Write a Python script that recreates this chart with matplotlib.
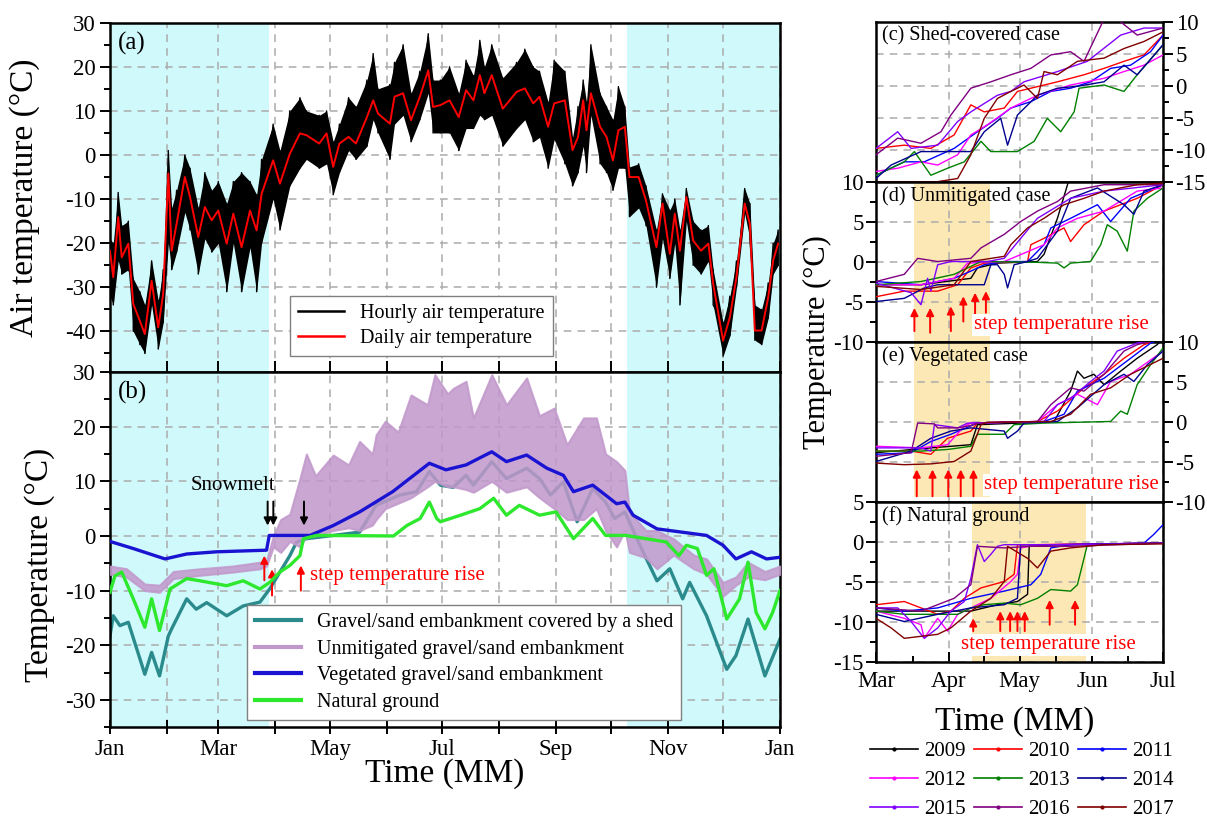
import numpy as np
import matplotlib
matplotlib.use('Agg')
import matplotlib.pyplot as plt
from matplotlib.lines import Line2D
from matplotlib.ticker import MultipleLocator

plt.rcParams['font.family'] = ['Liberation Serif', 'DejaVu Serif']
plt.rcParams['axes.unicode_minus'] = False

########################################################################################################################
# (a) air temperature, day of year
AIR_DAY = [0, 1.8, 4.5, 6.4, 10, 12.7, 16.3, 19, 22.7, 26.3, 29, 31.8, 33.6, 36.3, 40.8, 43.6, 48.1, 51.7, 55.4, 59,
           63.6, 67.2, 71.7, 76.3, 79.9, 82.6, 88.9, 92.6, 98, 103.5, 107, 114, 118, 121.6, 125, 130, 134, 140, 143.4,
           146, 152.5, 155, 159.7, 164, 168.8, 173.4, 176, 180, 185, 190, 194, 198, 201.5, 204, 208, 214, 221.5, 226,
           230.6, 234, 238.7, 242, 247.8, 252, 255, 257.8, 259.6, 262, 267, 270.5, 274, 277, 280.5, 283, 288, 292,
           297.7, 301, 305, 307.7, 310.5, 314, 317.7, 322, 326, 328.6, 334, 337.7, 341.3, 345.8, 348.6, 351.3, 355,
           358.6, 361.3, 364]
AIR_DAILY = [-21.7, -27.7, -14.1, -23.2, -20.1, -33.8, -37.6, -40.6, -28.5, -39.1, -31.5, -4.2, -21.7, -15.6, -5.0,
             -9.5, -18.6, -11.8, -14.8, -12.6, -20.1, -13.3, -20.9, -12.6, -17.1, -8.8, -1.2, -6.5, 0.3, 4.9,
             4.5, 2.6, 4.9, -2.7, 2.6, 4.1, 2.6, 8.6, 12.4, 9.4, 7.1, 13.2, 14.0, 7.9, 13.2,
             19.2, 10.9, 11.3, 12.4, 8.6, 14.7, 12.4, 18.1, 14.0, 18.1, 10.5, 14.3, 15.1, 11.7, 13.2,
             6.4, 11.7, 12.4, 1.1, 4.1, 12.4, 5.6, 14.0, 6.4, 4.1, -1.2, 5.6, 6.4, -5.0, -5.0,
             -10.3, -20.9, -11.0, -22.4, -13.3, -21.7, -9.5, -19.4, -21.7, -20.1, -29.2, -42.1, -36.8, -27.7, -11.0,
             -15.6, -39.8, -39.8, -32.3, -23.9, -20.1]
AIR_HOURLY_MAX = [-19, -20, -8.5, -16, -15, -28, -31, -34, -24, -33, -26, 1, -12, -8, 0, -3, -12, -4, -8, -6,
                  -11, -6, -4, -6, -9, -1, 7, 1, 10, 13, 10, 9, 10, 3, 7, 13, 11, 17, 23, 15,
                  16, 21, 25, 14, 19, 27.5, 17, 17, 20, 14, 21.5, 18, 26, 20, 25, 17.5, 21, 24, 20, 19,
                  12, 21.5, 19, 4, 11, 17, 12, 25, 14, 11, 8, 15.5, 11, -2.7, -2, -7, -17, -8.8, -12.5, -10,
                  -17, -7.6, -15, -17, -16, -26, -38, -32, -24, -7.6, -11, -34, -35, -29, -20, -17]
AIR_HOURLY_MIN = [-32, -34, -24, -27, -26, -40, -43, -45, -34, -44, -38, -20, -26, -22, -13, -17, -27, -19, -22, -20,
                  -31, -20, -31, -21, -31, -20, -10, -17, -7, -3, -1, -3, -2, -9, -4, 1, -1, 2, 8, 5,
                  -1, 7, 9, 3, 8, 14, 5, 5, 5, 1, 6, 6, 9, 8, 9, 2, 6, 8, 3, 4,
                  -3, 3.5, -2, -7, -4, 2, -4, 9, -2, -4, -8, -3, -3, -14, -12, -16, -30, -19, -28, -20,
                  -34, -15, -25, -27, -24, -34, -45.6, -41, -30, -13.3, -19, -42, -43, -37, -27, -25]

# (b) embankment temperatures
SHED_DAY = [0, 1.8, 5.4, 10, 19, 22.7, 27, 31.8, 33.6, 41.8, 47, 52.7, 63.6, 72.6, 81.7, 87, 92.6, 98, 101.7, 107,
            121.6, 136, 145, 158, 167, 174, 180, 187, 194, 198, 208, 216, 227, 234, 240, 247, 254.5, 263, 270, 275,
            280.5, 288.7, 298, 305, 312, 315.8, 325, 336, 341, 347.6, 356.8, 365]
SHED_T = [-18.3, -14.6, -16.4, -15.8, -25.3, -21.3, -25.6, -18.3, -17.0, -11.5, -13.4, -12.2, -14.6, -12.8, -12.1,
          -9.7, -6.6, -3.6, -1.1, -0.5, 0.1, 0.7, 5.6, 7.5, 8.1, 11.8, 9.3, 8.9, 11.1, 9.3, 13.6, 10.5, 12.4, 10.5,
          7.5, 9.9, 2.6, 8.7, 6.2, 3.2, 4.4, -1.7, -8.2, -6.0, -11.5, -8.5, -14.6, -24.4, -21.9, -15.2, -25.6, -18.9]

UNMIT_DAY = [0, 9, 19, 27, 34.5, 49, 67, 81.7, 85.3, 89, 93, 98, 103.5, 107, 112, 121.6, 130, 136, 143, 145, 150, 157,
             164, 173, 177, 184, 187, 194, 198, 208, 216, 227, 234, 242, 249, 258, 265, 270, 276, 280.5, 283, 292,
             298, 307, 318, 325, 334, 341, 347.6, 356.8, 365]
UNMIT_MIN = [-7, -7.5, -10, -10.3, -7.8, -7.2, -6.6, -6, -5.5, -2, -3, -1, -2, 0, 0, 1, 1.5, 1, 2, 3, 5, 6, 7, 9, 10,
             9, 9, 8.5, 8, 10, 8, 9, 7, 5, 3, 3, 5, 1, -2, 1, -3, -4, -6, -3.5, -6, -7, -11, -9, -7.5, -8, -7]
UNMIT_MAX = [-5.5, -6, -8.8, -9, -6.5, -6, -5.5, -4.8, -4.5, 0, 3, 4, 10.5, 15, 11, 14.8, 13, 17.3, 15, 18.5, 21, 19,
             25.8, 24, 29.5, 26, 27, 28.3, 21.6, 29.5, 24, 28.9, 22, 23.4, 16.7, 21.6, 21.6, 15, 13.6, 12, 4.4, 1, 1,
             -0.5, -3.5, -4.2, -8.5, -7.5, -4.8, -6.5, -5.5]

VEG_DAY = [0, 12.7, 30, 41.8, 58, 85.3, 86.8, 109, 121.6, 136, 154, 174, 183, 194, 208, 216, 227, 238, 247, 252.5,
           263, 276, 280.5, 285, 298, 325, 334, 341, 349.5, 357.7, 365]
VEG_T = [-1.0, -2.3, -4.2, -3.3, -2.9, -2.6, 0.1, 0.1, 1.9, 4.4, 8.1, 13.3, 12.1, 13.0, 15.4, 13.6, 14.8, 12.4, 11.1,
         8.1, 9.3, 5.9, 6.2, 3.8, 1.3, 0.1, -1.7, -4.2, -2.9, -4.2, -3.9]

NAT_DAY = [0, 2.7, 6.4, 12.7, 19, 22.7, 27, 32.7, 41.8, 49, 63.6, 72.6, 81.7, 87, 92.6, 98, 103.5, 105.4, 112.6, 154.5,
           161.7, 169, 174, 178, 180, 191, 201.5, 209, 216, 223, 234, 243, 252.5, 263, 270, 281, 292, 303, 310, 314,
           320, 325, 329, 336, 343, 347.6, 352, 356.8, 361, 365]
NAT_T = [-10.3, -7.3, -6.6, -11.5, -16.7, -11.5, -17.3, -9.7, -7.8, -8.2, -9.1, -8.2, -9.7, -8.5, -6.6, -5.4, -3.6,
         -0.5, 0.1, 0.0, 1.9, 3.2, 6.2, 3.2, 2.6, 3.8, 5.0, 6.9, 3.8, 5.6, 3.8, 4.4, -0.5, 3.2, 0.1, 0.1, -0.5, -1.1,
         -3.6, -1.7, -2.3, -7.2, -6.0, -15.2, -11.5, -4.8, -14.0, -17.0, -14.0, -10.0]

WINTER = [(0, 86.6), (281.6, 365)]
MONTH_START = [0, 31, 59, 90, 120, 151, 181, 212, 243, 273, 304, 334, 365]
MONTH_NAMES = ['Jan', 'Feb', 'Mar', 'Apr', 'May', 'Jun', 'Jul', 'Aug', 'Sep', 'Oct', 'Nov', 'Dec', 'Jan']

# snowmelt / step rise marks in (b)
B_MELT_DAY = [85.9, 89, 105.7]
B_RISE_DAY = [84.1, 88.3, 104]
B_RISE_FROM = [-8.1, -10.9, -10.0]
B_RISE_TO = [-3.6, -6.1, -5.4]

########################################################################################################################
# (c)-(f): days since 1 March, temperature
YEARS = ['2009', '2010', '2011', '2012', '2013', '2014', '2015', '2016', '2017']
YEAR_COLORS = ['black', '#FF0000', '#0000FF', '#FF00FF', '#008000', '#000090', '#8000FF', '#800080', '#800000']

C_2010 = [(0, -9.7), (12, -9.2), (23.3, -9.7), (33.2, -7.6), (40.3, -2.9), (46, -4.0), (54.5, -3.4), (60.1, -0.8),
          (65.8, -0.3), (77.1, 0.7), (88.4, 1.8), (96.9, 2.8), (105.4, 3.9), (113.9, 4.9), (122, 8.0)]
C_2011 = [(0, -13.9), (12, -11.8), (20.5, -11.8), (33.2, -9.7), (43.1, -7.1), (51.6, -5.0), (57.3, -3.4), (65.8, -2.4),
          (74.3, -0.8), (82.7, -0.3), (91.2, 0.7), (99.7, 2.8), (108.2, 3.3), (116.7, 5.4), (122, 8.0)]
C_2012 = [(0, -13.3), (9.2, -12.8), (19.1, -11.8), (26.2, -12.3), (34.7, -10.7), (40.3, -7.6), (47.4, -6.0),
          (57.3, -3.4), (68.6, -1.4), (82.7, 0.2), (96.9, 1.25), (105.4, 2.3), (113.9, 3.3), (122, 4.9)]
C_2013 = [(0, -13.9), (12, -11.8), (16.3, -10.2), (23.3, -13.9), (30.4, -12.8), (37.5, -11.8), (44.6, -8.6),
          (48.8, -10.2), (60.1, -10.2), (67.2, -8.6), (72.8, -5.0), (78.5, -7.1), (84.2, -4.0), (86.3, -0.3),
          (96.9, 0.2), (105.4, -0.8), (111, 1.8), (119.5, 5.4), (122, 6.5)]
C_2014 = [(0, -14.4), (6.4, -12.3), (19.1, -10.2), (40.3, -10.2), (46, -7.1), (53, -5.0), (55.9, -9.2), (60.1, -4.5),
          (68.6, -1.4), (77.1, -0.3), (85.6, 0), (96.9, 0.7), (105.4, 3.3), (111, 1.8), (122, 6.5)]
C_2015 = [(0, -9.7), (9.2, -7.1), (14.9, -9.7), (26.2, -9.2), (34.7, -5.5), (40.3, -4.0), (51.6, -1.4), (57.3, -0.8),
          (62.9, 0.7), (77.1, 2.3), (89.8, 3.9), (104, 8.0), (113.9, 9.1), (122, 9.1)]
C_2016 = [(0, -10.7), (9.2, -8.1), (19.1, -8.9), (27.6, -7.1), (31.8, -4.5), (40.3, -0.3), (48.8, 0.7), (57.3, 1.8),
          (65.8, 2.8), (74.3, 4.9), (82.7, 5.4), (88.4, 3.9), (96.9, 10.5), (102.5, 10.5), (111, 8.0), (122, 9.1)]
C_2017 = [(0, -14.9), (26.2, -14.9), (34.7, -14.4), (40.3, -10.7), (46, -5.0), (51.6, -1.9), (57.3, -0.8),
          (62.9, 0.2), (68.6, -1.9), (71.4, 2.3), (77.1, 1.8), (85.6, 3.9), (96.9, 4.4), (105.4, 5.9), (113.9, 7.0),
          (122, 8.5)]

D_2009 = [(0, -2.8), (19.1, -2.8), (40.3, -2.0), (43.1, -0.7), (51.6, -0.1), (68.6, 0.1), (71.4, 1.0), (77.1, 5.5),
          (82.7, 11), (122, 11)]
D_2010 = [(0, -4.3), (12, -3.6), (26.2, -3.6), (34.7, -2.8), (40.3, -0.7), (46, -0.1), (64.4, 0.1), (65.8, 2.2),
          (71.4, 3.0), (79.9, 4.3), (82.7, 2.6), (88.4, 4.7), (96.9, 6.4), (111, 8.0), (122, 9.7)]
D_2011 = [(0, -2.4), (19.1, -2.8), (33.2, -2.0), (40.3, -1.1), (46, -0.3), (54.5, 0.1), (64.4, 0.1), (71.4, 2.2),
          (74.3, 4.3), (82.7, 5.5), (94.1, 7.2), (99.7, 5.1), (108.2, 8.0), (122, 9.7)]
D_2012 = [(0, -2.8), (19.1, -2.8), (33.2, -2.0), (38.9, -0.1), (54.5, 0.1), (71.4, 2.2), (77.1, 4.3), (85.6, 5.5),
          (96.9, 6.4), (111, 8.9), (122, 9.3)]
D_2013 = [(0, -2.8), (19.1, -2.4), (33.2, -1.5), (44.6, 0.1), (68.6, 0), (77.1, -0.1), (79.9, -0.7), (82.7, -0.1),
          (91.2, 0.1), (95.5, 2.2), (98.3, 4.7), (102.5, 3.9), (106.8, 1.4), (109.6, 6.4), (115.3, 8.0), (122, 9.3)]
D_2014 = [(0, -4.9), (12, -4.5), (20.5, -3.2), (26.2, -2.8), (37.5, -2.8), (46, -2.8), (48.8, -0.3), (51.6, -0.3),
          (54.5, -1.5), (55.9, -3.2), (58.7, -0.3), (64.4, 0.1), (68.6, 0.5), (77.1, 3.9), (82.7, 8.0), (94.1, 9.3),
          (105.4, 7.2), (109.6, 6.0), (113.9, 8.9), (122, 9.7)]
D_2015 = [(0, -2.6), (14.9, -3.8), (19.1, -5.3), (21.9, -2.0), (23.3, -3.6), (26.2, -0.3), (31.8, 0.1), (40.3, 0.1),
          (47.4, 0.1), (54.5, 0.5), (61.5, 3.0), (68.6, 5.5), (82.7, 8.0), (96.9, 8.9), (122, 9.7)]
D_2016 = [(0, -2.4), (12, -1.5), (17.7, 0.5), (26.2, 0.1), (40.3, 0.5), (44.6, 1.8), (54.5, 3.5), (61.5, 5.1),
          (68.6, 6.4), (77.1, 7.6), (82.7, 8.9), (96.9, 9.7), (122, 9.7)]
D_2017 = [(0, -3.0), (19.1, -3.4), (33.2, -2.8), (40.3, 0.1), (54.5, 0.75), (57.3, 2.2), (64.4, 4.3), (71.4, 5.5),
          (79.9, 7.2), (88.4, 8.0), (96.9, 8.9), (111, 9.7), (122, 9.9)]

E_2009 = [(0, -3.8), (23.3, -3.2), (40.3, -2.8), (43.1, -0.3), (61.5, -0.1), (75.7, 0.1), (82.7, 3.9), (85.6, 6.4),
          (88.4, 5.5), (92.6, 6.0), (96.9, 4.7), (104, 6.4), (111, 8.0), (119.5, 9.7), (122, 10.5)]
E_2010 = [(0, -3.6), (14.9, -3.6), (23.3, -4.0), (30.4, -2.0), (40.3, -1.1), (43.1, -0.1), (68.6, 0.1), (77.1, 1.4),
          (88.4, 4.3), (96.9, 6.0), (105.4, 8.0), (113.9, 9.7), (122, 10.5)]
E_2011 = [(0, -4.0), (14.9, -3.8), (23.3, -2.4), (31.8, -1.5), (43.1, -0.1), (71.4, 0.1), (79.9, 1.0), (85.6, 3.9),
          (96.9, 5.5), (108.2, 8.0), (116.7, 9.9), (122, 10.5)]
E_2012 = [(0, -3.0), (19.1, -3.2), (30.4, -2.8), (37.5, -0.5), (40.3, -0.1), (68.6, 0.1), (77.1, 2.2), (85.6, 3.5),
          (94.1, 2.2), (99.7, 5.1), (108.2, 6.0), (122, 8.9)]
E_2013 = [(0, -3.6), (19.1, -3.6), (30.4, -3.4), (40.3, -3.0), (43.1, -1.5), (54.5, -1.5), (58.7, -0.3), (71.4, -0.1),
          (99.7, 0.1), (104, 1.4), (106.8, 1.0), (111, 4.7), (116.7, 7.2), (122, 9.3)]
E_2014 = [(0, -4.9), (14.9, -3.6), (23.3, -2.0), (31.8, -1.1), (40.3, -0.7), (47.4, -0.9), (54.5, -1.1), (55.9, -2.0),
          (60.1, -1.1), (62.9, -0.1), (77.1, 0.1), (85.6, 1.8), (96.9, 4.7), (105.4, 6.0), (109.6, 5.1), (115.3, 7.2),
          (122, 8.9)]
E_2015 = [(0, -3.2), (19.1, -3.2), (23.3, -3.6), (24.8, -0.3), (34.7, -0.7), (38.9, -0.1), (71.4, 0.1), (77.1, 2.2),
          (82.7, 3.0), (91.2, 5.1), (96.9, 6.4), (102.5, 8.9), (111, 9.9), (122, 10.5)]
E_2016 = [(0, -4.25), (14.9, -3.8), (17.7, -0.1), (24.8, -0.2), (26.2, -0.7), (34.7, -0.7), (40.3, -0.4), (43.1, -0.1),
          (68.6, 0.1), (74.3, 2.2), (82.7, 4.3), (88.4, 3.9), (96.9, 6.0), (105.4, 8.9), (111, 9.7), (122, 10.5)]
E_2017 = [(0, -5.1), (12, -5.3), (23.3, -5.2), (33.2, -4.9), (40.3, -3.6), (44.6, -0.3), (47.4, 0), (74.3, 0.1),
          (82.7, 1.0), (91.2, 3.5), (99.7, 4.3), (108.2, 6.0), (122, 8.0)]

F_2009 = [(0, -8.6), (19.1, -8.6), (40.3, -8.6), (51.6, -7.8), (60.1, -7.4), (64.4, -6.5), (65.1, -0.5), (75.7, -0.3),
          (122, -0.1)]
F_2010 = [(0, -7.8), (12, -7.4), (19.1, -8.2), (26.2, -9.0), (31.8, -8.6), (37.5, -7.0), (44.6, -5.7), (54.5, -4.9),
          (58.7, -4.0), (60.1, -0.3), (68.6, -0.3), (122, -0.1)]
F_2011 = [(0, -8.2), (12, -8.6), (26.2, -8.2), (40.3, -7.0), (54.5, -6.1), (65.8, -5.3), (70, -4.0), (74.3, -0.7),
          (82.7, -0.3), (113.9, -0.1), (118.1, 1.0), (122, 2.2)]
F_2012 = [(0, -8.6), (12, -9.5), (19.1, -10.3), (20.5, -12.0), (26.2, -9.5), (30.4, -11.1), (34.7, -9.0), (40.3, -8.2),
          (48.8, -7.0), (57.3, -4.9), (60.1, -4.0), (61.5, -0.7), (68.6, -0.3), (122, -0.1)]
F_2013 = [(0, -8.6), (12, -9.0), (26.2, -9.0), (34.7, -9.0), (40.3, -8.2), (46, -7.8), (54.5, -7.6), (61.5, -7.8),
          (68.6, -7.0), (74.3, -5.9), (82.7, -6.1), (85.6, -5.3), (88.4, -2.0), (89.8, -0.3), (122, -0.1)]
F_2014 = [(0, -9.0), (12, -9.9), (26.2, -9.0), (40.3, -8.2), (54.5, -7.8), (60.1, -7.0), (61.5, -0.3), (75.7, -0.3),
          (122, -0.1)]
F_2015 = [(0, -8.2), (9.2, -8.2), (14.9, -9.9), (20.5, -12.0), (26.2, -10.7), (31.8, -8.6), (37.5, -7.4), (40.3, -4.5),
          (43.1, -0.3), (46, -2.4), (48.8, -1.5), (51.6, -0.5), (54.5, -0.3), (82.7, -0.3), (122, -0.1)]
F_2016 = [(0, -8.2), (19.1, -8.6), (33.2, -7.0), (40.3, -5.3), (43.1, -0.5), (54.5, -0.7), (65.8, -0.5), (82.7, -0.5),
          (122, -0.1)]
F_2017 = [(0, -9.5), (6.4, -10.7), (12, -12.0), (26.2, -11.5), (31.8, -10.7), (40.3, -8.6), (48.8, -7.0), (54.5, -4.9),
          (55.9, -0.5), (64.4, -2.0), (68.6, -3.2), (74.3, -1.1), (82.7, -0.7), (96.9, -0.3), (122, -0.2)]

RIGHT_TICKS = [0, 31, 61, 92, 122]
RIGHT_LABELS = ['Mar', 'Apr', 'May', 'Jun', 'Jul']

# step temperature rise marks (day, arrow tail, arrow head)
D_RISE = [(16.3, -8.6, -5.7), (23, -8.8, -5.7), (31.8, -8.6, -5.5), (37.1, -7.4, -4.25), (42.1, -6.5, -3.8),
          (46.7, -6.3, -3.6)]
E_RISE = [(17.3, -9.25, -5.9), (24, -9.25, -5.9), (30.7, -9.25, -5.9), (36, -9.25, -5.9), (41.4, -9.25, -5.9)]
F_RISE = [(41.3, -11.1, -9.5), (52.8, -11.1, -8.6), (57, -11.1, -8.6), (60.1, -11.1, -8.6), (63.2, -11.1, -8.6),
          (73.8, -10.3, -7.2), (84.6, -10.3, -7.2)]
DE_WINDOW = (16.3, 48.4)
F_WINDOW = (40.7, 89.1)

########################################################################################################################
CYAN = '#CFF9FB'
ORANGE = '#FCE8B4'
GRID = dict(color='#ABABAB', linestyle=(0, (5, 4)), linewidth=1.1)
TICK_SIZE = 16.5


def habiller(ax, tick_size=TICK_SIZE):
    """Cadre épais et graduations"""
    for s in ax.spines.values():
        s.set_linewidth(1.8)
    ax.tick_params(which='both', width=1.4, labelsize=tick_size)
    ax.tick_params(which='major', length=7)
    ax.tick_params(which='minor', length=4)
    ax.set_axisbelow(True)


def fleche(ax, x, y0, y1, color='red'):
    ax.annotate('', xy=(x, y1), xytext=(x, y0),
                arrowprops=dict(arrowstyle='-|>', color=color, lw=1.4, mutation_scale=11, shrinkA=0, shrinkB=0))


def panneau_gauche(ax):
    ax.set_xlim(0, 365)
    for a, b in WINTER:
        ax.axvspan(a, b, color=CYAN, lw=0, zorder=0)
    ax.xaxis.grid(True, which='both', **GRID)
    ax.yaxis.grid(True, which='major', **GRID)
    ax.set_xticks(MONTH_START[::2])
    ax.set_xticks(MONTH_START[1::2], minor=True)
    ax.yaxis.set_major_locator(MultipleLocator(10))
    ax.yaxis.set_minor_locator(MultipleLocator(5))
    habiller(ax)


def panneau_droit(ax, series, ylim, titre, droite):
    ax.set_xlim(0, 122)
    ax.set_ylim(*ylim)
    for annee, couleur in zip(YEARS, YEAR_COLORS):
        if annee not in series:
            continue
        d, t = zip(*series[annee])
        ax.plot(d, t, color=couleur, lw=1.0, zorder=3)
    ax.set_xticks(RIGHT_TICKS)
    ax.set_xticks([(a + b) / 2 for a, b in zip(RIGHT_TICKS[:-1], RIGHT_TICKS[1:])], minor=True)
    ax.yaxis.set_major_locator(MultipleLocator(5))
    ax.yaxis.set_minor_locator(MultipleLocator(2.5))
    ax.xaxis.grid(True, which='major', **GRID)
    ax.yaxis.grid(True, which='major', **GRID)
    habiller(ax)
    ax.tick_params(axis='x', which='both', direction='in', top=False)
    ax.tick_params(axis='y', which='major', pad=2)
    if droite:
        ax.yaxis.tick_right()
    ax.text(0.02, 0.975, titre, transform=ax.transAxes, va='top', ha='left', fontsize=14.5, zorder=6)


def main():
    fig = plt.figure(figsize=(12.07, 8.19), dpi=100)

    # (a) --------------------------------------------------------------------------------------------------------------
    ax_a = fig.add_axes([0.0911, 0.5458, 0.5551, 0.4265])
    panneau_gauche(ax_a)
    ax_a.set_ylim(-49.2, 30)
    xs = np.repeat(AIR_DAY, 2)
    ys = np.column_stack([AIR_HOURLY_MAX, AIR_HOURLY_MIN]).ravel()
    ax_a.fill_between(AIR_DAY, AIR_HOURLY_MIN, AIR_HOURLY_MAX, color='black', lw=0, zorder=2)
    ax_a.plot(xs, ys, color='black', lw=1.0, zorder=2, label='Hourly air temperature')
    ax_a.plot(AIR_DAY, AIR_DAILY, color='red', lw=1.4, zorder=3, label='Daily air temperature')
    ax_a.tick_params(axis='x', which='both', direction='in', length=8, labelbottom=False)
    ax_a.text(0.012, 0.975, '(a)', transform=ax_a.transAxes, va='top', fontsize=18)
    leg = ax_a.legend(loc='lower left', bbox_to_anchor=(0.268, 0.046), borderaxespad=0, fontsize=14.5,
                      fancybox=False, edgecolor='#808080', framealpha=1, handlelength=2.3, borderpad=0.4,
                      labelspacing=0.3)
    leg.get_frame().set_linewidth(1.0)
    for h in leg.get_lines():
        h.set_linewidth(1.8)
    ax_a.set_ylabel('Air temperature (°C)', fontsize=24)
    ax_a.yaxis.set_label_coords(-0.105, 0.5)

    # (b) --------------------------------------------------------------------------------------------------------------
    ax_b = fig.add_axes([0.0911, 0.112, 0.5551, 0.4338])
    panneau_gauche(ax_b)
    ax_b.set_ylim(-35, 30)
    c_shed, c_unmit, c_veg, c_nat = '#2A8A8C', '#C198CB', '#1A14D2', '#2EE82E'
    ax_b.plot(SHED_DAY, SHED_T, color=c_shed, lw=2.4, zorder=2)
    ax_b.fill_between(UNMIT_DAY, UNMIT_MIN, UNMIT_MAX, color=c_unmit, alpha=0.85, lw=1.5, zorder=3)
    ax_b.plot(VEG_DAY, VEG_T, color=c_veg, lw=2.4, zorder=4)
    ax_b.plot(NAT_DAY, NAT_T, color=c_nat, lw=2.4, zorder=5)
    ax_b.set_xticklabels(MONTH_NAMES[::2])
    ax_b.tick_params(axis='x', which='both', direction='inout', length=10)
    ax_b.text(0.012, 0.975, '(b)', transform=ax_b.transAxes, va='top', fontsize=18)

    for d in B_MELT_DAY:
        fleche(ax_b, d, 6.3, 1.9, color='black')
    for d, y0, y1 in zip(B_RISE_DAY, B_RISE_FROM, B_RISE_TO):
        fleche(ax_b, d, y0, y1)
    ax_b.text(67, 9.2, 'Snowmelt', ha='center', va='center', fontsize=15)
    ax_b.text(109, -7.3, 'step temperature rise', ha='left', va='center', fontsize=15, color='red')

    handles = [Line2D([0], [0], color=c, lw=3) for c in (c_shed, c_unmit, c_veg, c_nat)]
    labels = ['Gravel/sand embankment covered by a shed', 'Unmitigated gravel/sand embankment',
              'Vegetated gravel/sand embankment', 'Natural ground']
    leg = ax_b.legend(handles, labels, loc='lower left', bbox_to_anchor=(0.204, 0.02), borderaxespad=0,
                      fontsize=14.5, fancybox=False, edgecolor='#808080', framealpha=1, handlelength=2.3,
                      borderpad=0.4, labelspacing=0.38)
    leg.get_frame().set_linewidth(1.0)
    fig.text(0.033, 1 - 565 / 819, 'Temperature (°C)', rotation=90, ha='center', va='center', fontsize=24)
    fig.text(445 / 1207, 1 - 774 / 819, 'Time (MM)', ha='center', va='center', fontsize=24)

    # (c)-(f) ----------------------------------------------------------------------------------------------------------
    panneaux = [
        (0.7774, dict(zip(YEARS[1:], [C_2010, C_2011, C_2012, C_2013, C_2014, C_2015, C_2016, C_2017])),
         (-15, 10), '(c) Shed-covered case', True),
        (0.5820, dict(zip(YEARS, [D_2009, D_2010, D_2011, D_2012, D_2013, D_2014, D_2015, D_2016, D_2017])),
         (-10, 10), '(d) Unmitigated case', False),
        (0.3867, dict(zip(YEARS, [E_2009, E_2010, E_2011, E_2012, E_2013, E_2014, E_2015, E_2016, E_2017])),
         (-10, 10), '(e) Vegetated case', True),
        (0.1913, dict(zip(YEARS, [F_2009, F_2010, F_2011, F_2012, F_2013, F_2014, F_2015, F_2016, F_2017])),
         (-15, 5), '(f) Natural ground', False),
    ]
    axes = []
    for bas, series, ylim, titre, droite in panneaux:
        ax = fig.add_axes([0.7258, bas, 0.2378, 0.1954])
        panneau_droit(ax, series, ylim, titre, droite)
        axes.append(ax)
    ax_c, ax_d, ax_e, ax_f = axes

    for ax in (ax_c, ax_d, ax_e):
        ax.tick_params(axis='x', which='both', bottom=False, labelbottom=False)
    ax_f.set_xticklabels(RIGHT_LABELS)
    ax_f.tick_params(axis='x', which='major', length=7, pad=6)

    ax_d.axvspan(*DE_WINDOW, color=ORANGE, lw=0, zorder=0)
    ax_e.axvspan(*DE_WINDOW, ymin=0.03, color=ORANGE, lw=0, zorder=0)
    ax_f.axvspan(*F_WINDOW, color=ORANGE, lw=0, zorder=0)

    for ax, marques in ((ax_d, D_RISE), (ax_e, E_RISE), (ax_f, F_RISE)):
        for d, y0, y1 in marques:
            fleche(ax, d, y0, y1)
    boite = dict(facecolor='white', edgecolor='none', pad=1)
    ax_d.text(41.6, -7.8, 'step temperature rise', color='red', fontsize=15, va='center', bbox=boite, zorder=5)
    ax_e.text(46, -7.8, 'step temperature rise', color='red', fontsize=15, va='center', bbox=boite, zorder=5)
    ax_f.text(36, -12.8, 'step temperature rise', color='red', fontsize=15, va='center', bbox=boite, zorder=5)

    fig.text(817 / 1207, 1 - 342 / 819, 'Temperature (°C)', rotation=90, ha='center', va='center', fontsize=22)
    fig.text(1015 / 1207, 1 - 722 / 819, 'Time (MM)', ha='center', va='center', fontsize=24)

    # légende des années, remplie ligne par ligne
    ordre = [0, 3, 6, 1, 4, 7, 2, 5, 8]
    poignees = [Line2D([0], [0], color=YEAR_COLORS[i], lw=1.2, marker='.', markersize=4) for i in ordre]
    fig.legend(poignees, [YEARS[i] for i in ordre], ncol=3, loc='upper center',
               bbox_to_anchor=(1022 / 1207, 1 - 733 / 819), frameon=False, fontsize=15, handlelength=2.3,
               columnspacing=0.4, handletextpad=0.3, labelspacing=0.45, numpoints=1, borderaxespad=0)

    fig.savefig('out.png', dpi=100)


if __name__ == '__main__':
    main()
